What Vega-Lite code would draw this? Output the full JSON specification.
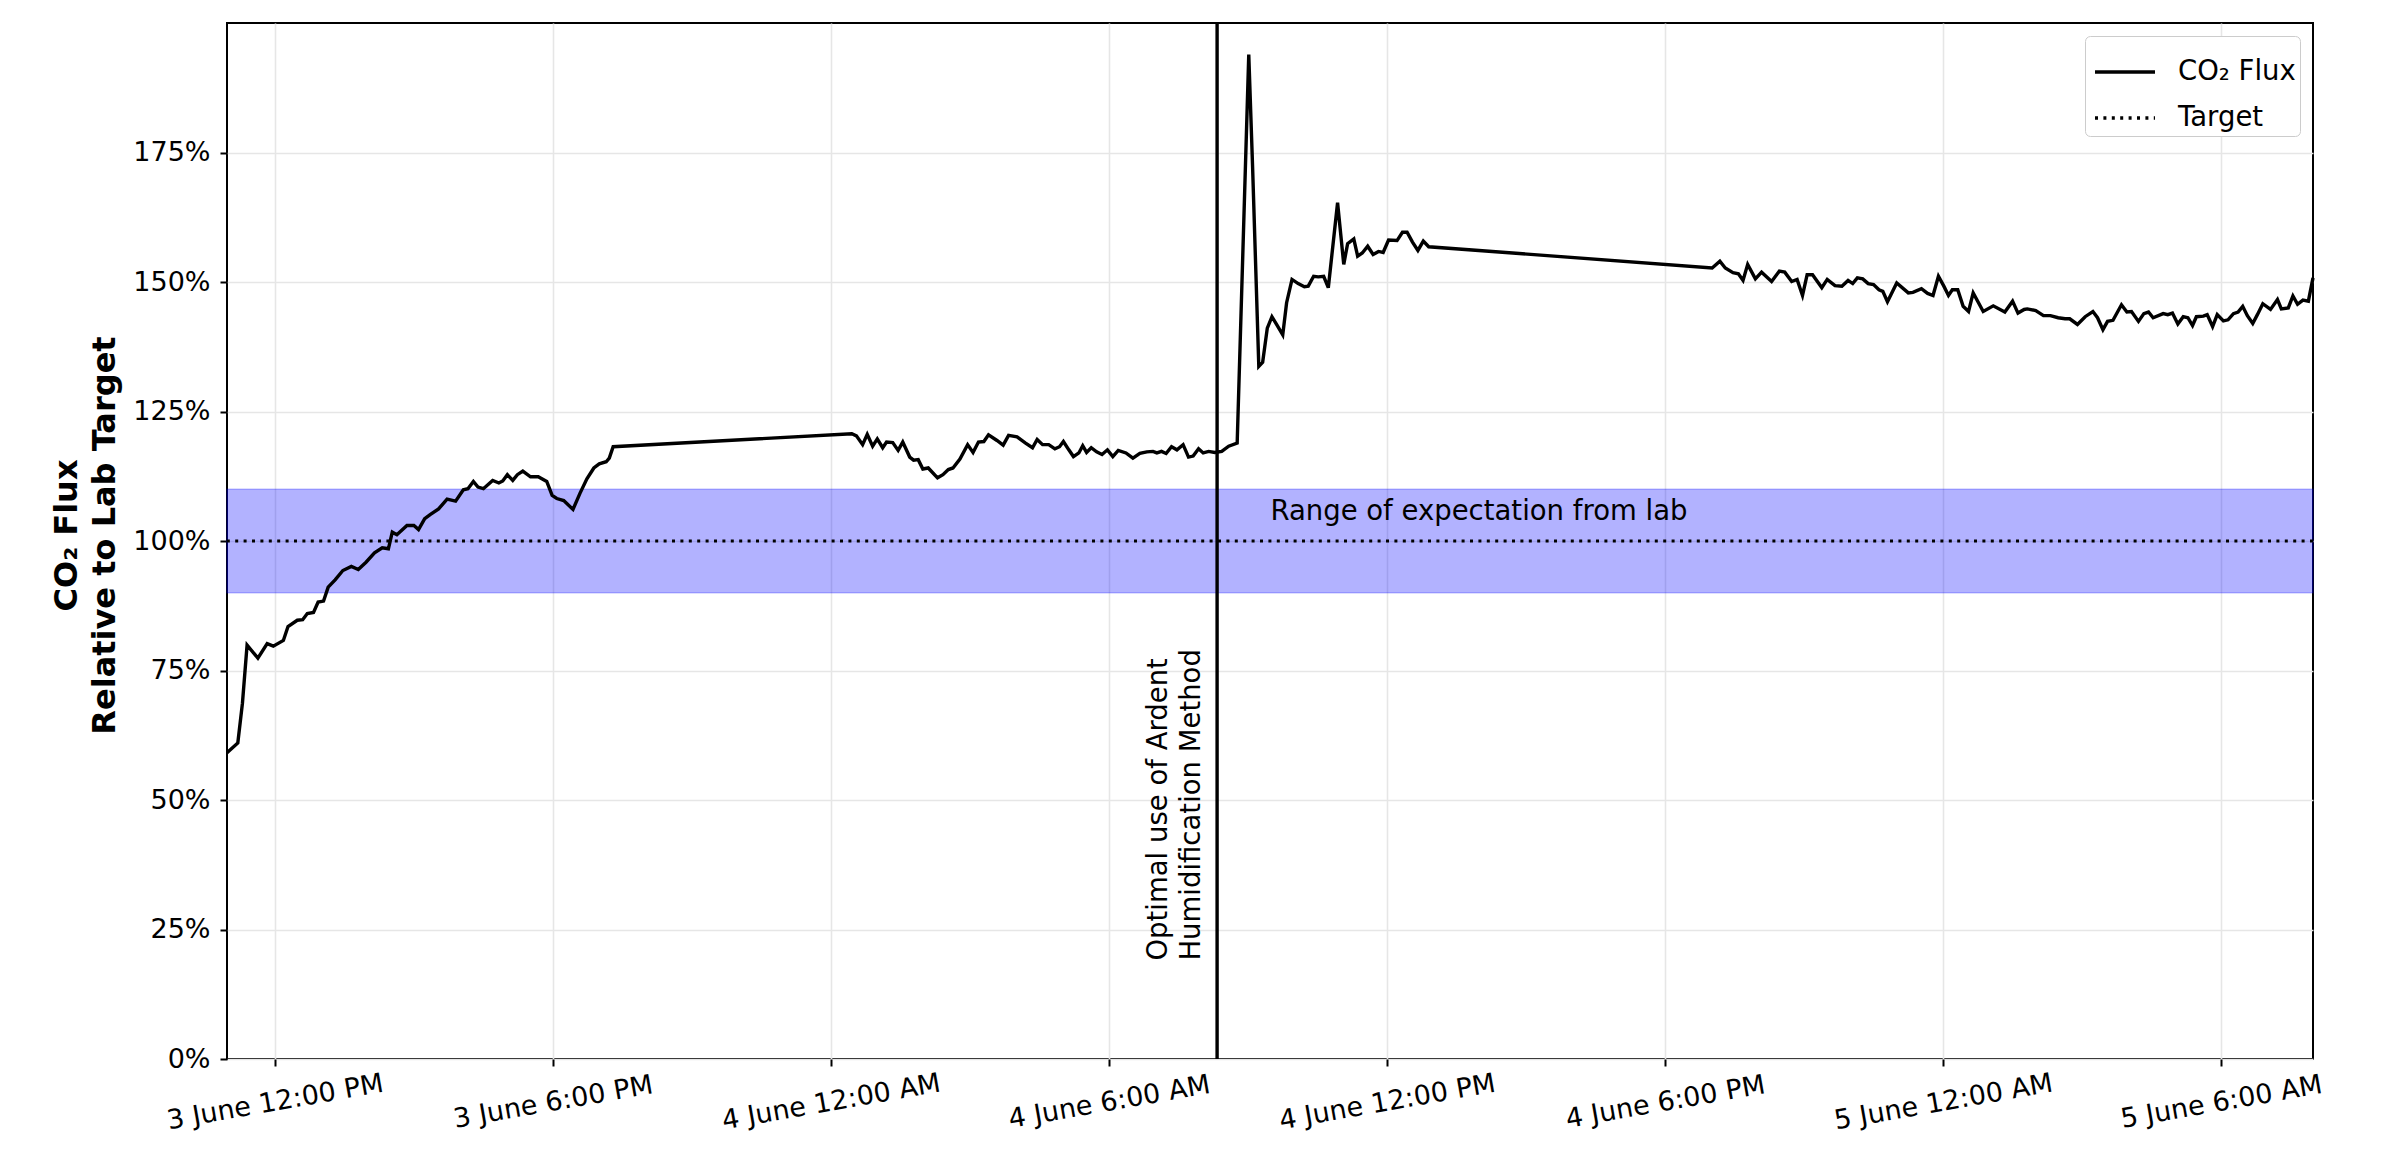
{
  "$schema": "https://vega.github.io/schema/vega-lite/v6.json",
  "width": 2086,
  "height": 1036,
  "autosize": {"type": "none"},
  "padding": {"left": 227, "top": 23, "right": 69, "bottom": 102},
  "background": "white",
  "config": {
    "font": "DejaVu Sans",
    "view": {"stroke": "black", "strokeWidth": 2},
    "axis": {
      "labelFont": "DejaVu Sans",
      "labelFontSize": 27,
      "labelColor": "black",
      "labelLimit": 600,
      "tickColor": "black",
      "tickWidth": 2,
      "tickSize": 7,
      "domain": false,
      "gridColor": "#e6e6e6",
      "gridWidth": 1.6,
      "titleFont": "DejaVu Sans",
      "titleColor": "black"
    },
    "legend": {
      "orient": "top-right",
      "offset": 13,
      "symbolType": "stroke",
      "symbolSize": 3600,
      "symbolStrokeWidth": 3.4,
      "symbolStrokeColor": "black",
      "symbolOffset": 4,
      "labelFont": "DejaVu Sans",
      "labelFontSize": 27.5,
      "labelColor": "black",
      "labelOffset": 21,
      "labelLimit": 400,
      "padding": 4,
      "rowPadding": -7,
      "strokeColor": "#cccccc",
      "fillColor": "white",
      "cornerRadius": 5
    }
  },
  "layer": [
    {
      "data": {"values": [{"v": 90, "v2": 110}]},
      "mark": {"type": "rect", "fill": "#0000ff", "fillOpacity": 0.3, "stroke": "#0000ff", "strokeOpacity": 0.25, "strokeWidth": 1.5},
      "encoding": {
        "y": {"field": "v", "type": "quantitative"},
        "y2": {"field": "v2"}
      }
    },
    {
      "data": {"values": [{"v": 100, "series": "Target"}]},
      "mark": {"type": "rule", "color": "black", "strokeWidth": 3.2},
      "encoding": {
        "y": {"field": "v", "type": "quantitative"},
        "strokeDash": {
          "field": "series",
          "type": "nominal",
          "scale": {"domain": ["CO₂ Flux", "Target"], "range": [[1, 0], [3, 5.4]]},
          "legend": {"title": null}
        }
      }
    },
    {
      "data": {"values": [
      {"t": "2024-06-03T10:58", "v": 59.1},
      {"t": "2024-06-03T11:12", "v": 61.0},
      {"t": "2024-06-03T11:18", "v": 68.7},
      {"t": "2024-06-03T11:24", "v": 79.9},
      {"t": "2024-06-03T11:38", "v": 77.4},
      {"t": "2024-06-03T11:50", "v": 80.2},
      {"t": "2024-06-03T11:58", "v": 79.7},
      {"t": "2024-06-03T12:11", "v": 80.8},
      {"t": "2024-06-03T12:17", "v": 83.5},
      {"t": "2024-06-03T12:29", "v": 84.7},
      {"t": "2024-06-03T12:36", "v": 84.8},
      {"t": "2024-06-03T12:42", "v": 86.0},
      {"t": "2024-06-03T12:50", "v": 86.2},
      {"t": "2024-06-03T12:56", "v": 88.2},
      {"t": "2024-06-03T13:03", "v": 88.4},
      {"t": "2024-06-03T13:09", "v": 91.1},
      {"t": "2024-06-03T13:18", "v": 92.5},
      {"t": "2024-06-03T13:28", "v": 94.3},
      {"t": "2024-06-03T13:39", "v": 95.1},
      {"t": "2024-06-03T13:48", "v": 94.5},
      {"t": "2024-06-03T13:58", "v": 95.9},
      {"t": "2024-06-03T14:09", "v": 97.7},
      {"t": "2024-06-03T14:19", "v": 98.7},
      {"t": "2024-06-03T14:27", "v": 98.5},
      {"t": "2024-06-03T14:32", "v": 101.7},
      {"t": "2024-06-03T14:38", "v": 101.2},
      {"t": "2024-06-03T14:51", "v": 103.0},
      {"t": "2024-06-03T15:00", "v": 103.0},
      {"t": "2024-06-03T15:06", "v": 102.2},
      {"t": "2024-06-03T15:14", "v": 104.3},
      {"t": "2024-06-03T15:21", "v": 105.1},
      {"t": "2024-06-03T15:32", "v": 106.2},
      {"t": "2024-06-03T15:43", "v": 108.1},
      {"t": "2024-06-03T15:54", "v": 107.7},
      {"t": "2024-06-03T16:04", "v": 109.9},
      {"t": "2024-06-03T16:10", "v": 110.1},
      {"t": "2024-06-03T16:17", "v": 111.5},
      {"t": "2024-06-03T16:23", "v": 110.4},
      {"t": "2024-06-03T16:30", "v": 110.1},
      {"t": "2024-06-03T16:42", "v": 111.7},
      {"t": "2024-06-03T16:50", "v": 111.2},
      {"t": "2024-06-03T16:55", "v": 111.6},
      {"t": "2024-06-03T17:01", "v": 112.8},
      {"t": "2024-06-03T17:08", "v": 111.7},
      {"t": "2024-06-03T17:14", "v": 112.8},
      {"t": "2024-06-03T17:21", "v": 113.5},
      {"t": "2024-06-03T17:31", "v": 112.4},
      {"t": "2024-06-03T17:41", "v": 112.4},
      {"t": "2024-06-03T17:52", "v": 111.5},
      {"t": "2024-06-03T17:59", "v": 108.8},
      {"t": "2024-06-03T18:05", "v": 108.2},
      {"t": "2024-06-03T18:14", "v": 107.8},
      {"t": "2024-06-03T18:26", "v": 106.1},
      {"t": "2024-06-03T18:35", "v": 109.2},
      {"t": "2024-06-03T18:44", "v": 112.0},
      {"t": "2024-06-03T18:53", "v": 114.1},
      {"t": "2024-06-03T19:00", "v": 114.9},
      {"t": "2024-06-03T19:09", "v": 115.3},
      {"t": "2024-06-03T19:13", "v": 116.0},
      {"t": "2024-06-03T19:18", "v": 118.2},
      {"t": "2024-06-04T00:27", "v": 120.7},
      {"t": "2024-06-04T00:33", "v": 120.3},
      {"t": "2024-06-04T00:41", "v": 118.6},
      {"t": "2024-06-04T00:47", "v": 120.6},
      {"t": "2024-06-04T00:54", "v": 118.3},
      {"t": "2024-06-04T01:00", "v": 119.7},
      {"t": "2024-06-04T01:07", "v": 118.0},
      {"t": "2024-06-04T01:12", "v": 119.1},
      {"t": "2024-06-04T01:20", "v": 119.0},
      {"t": "2024-06-04T01:27", "v": 117.5},
      {"t": "2024-06-04T01:33", "v": 119.1},
      {"t": "2024-06-04T01:42", "v": 116.2},
      {"t": "2024-06-04T01:47", "v": 115.6},
      {"t": "2024-06-04T01:53", "v": 115.7},
      {"t": "2024-06-04T01:59", "v": 113.9},
      {"t": "2024-06-04T02:06", "v": 114.1},
      {"t": "2024-06-04T02:18", "v": 112.2},
      {"t": "2024-06-04T02:25", "v": 112.8},
      {"t": "2024-06-04T02:32", "v": 113.8},
      {"t": "2024-06-04T02:38", "v": 114.1},
      {"t": "2024-06-04T02:47", "v": 115.8},
      {"t": "2024-06-04T02:57", "v": 118.6},
      {"t": "2024-06-04T03:04", "v": 117.1},
      {"t": "2024-06-04T03:11", "v": 119.1},
      {"t": "2024-06-04T03:18", "v": 119.2},
      {"t": "2024-06-04T03:24", "v": 120.5},
      {"t": "2024-06-04T03:35", "v": 119.4},
      {"t": "2024-06-04T03:43", "v": 118.5},
      {"t": "2024-06-04T03:50", "v": 120.4},
      {"t": "2024-06-04T04:01", "v": 120.1},
      {"t": "2024-06-04T04:12", "v": 118.9},
      {"t": "2024-06-04T04:21", "v": 118.0},
      {"t": "2024-06-04T04:27", "v": 119.6},
      {"t": "2024-06-04T04:34", "v": 118.6},
      {"t": "2024-06-04T04:42", "v": 118.6},
      {"t": "2024-06-04T04:50", "v": 117.8},
      {"t": "2024-06-04T04:56", "v": 118.2},
      {"t": "2024-06-04T05:01", "v": 119.2},
      {"t": "2024-06-04T05:08", "v": 117.6},
      {"t": "2024-06-04T05:14", "v": 116.3},
      {"t": "2024-06-04T05:21", "v": 117.0},
      {"t": "2024-06-04T05:26", "v": 118.4},
      {"t": "2024-06-04T05:31", "v": 117.1},
      {"t": "2024-06-04T05:37", "v": 118.0},
      {"t": "2024-06-04T05:44", "v": 117.2},
      {"t": "2024-06-04T05:51", "v": 116.7},
      {"t": "2024-06-04T05:58", "v": 117.6},
      {"t": "2024-06-04T06:05", "v": 116.3},
      {"t": "2024-06-04T06:12", "v": 117.5},
      {"t": "2024-06-04T06:22", "v": 117.0},
      {"t": "2024-06-04T06:31", "v": 116.0},
      {"t": "2024-06-04T06:40", "v": 116.9},
      {"t": "2024-06-04T06:49", "v": 117.2},
      {"t": "2024-06-04T06:57", "v": 117.3},
      {"t": "2024-06-04T07:02", "v": 117.0},
      {"t": "2024-06-04T07:08", "v": 117.3},
      {"t": "2024-06-04T07:14", "v": 116.9},
      {"t": "2024-06-04T07:21", "v": 118.2},
      {"t": "2024-06-04T07:28", "v": 117.6},
      {"t": "2024-06-04T07:36", "v": 118.6},
      {"t": "2024-06-04T07:43", "v": 116.2},
      {"t": "2024-06-04T07:49", "v": 116.4},
      {"t": "2024-06-04T07:56", "v": 117.8},
      {"t": "2024-06-04T08:02", "v": 117.0},
      {"t": "2024-06-04T08:09", "v": 117.3},
      {"t": "2024-06-04T08:17", "v": 117.1},
      {"t": "2024-06-04T08:26", "v": 117.3},
      {"t": "2024-06-04T08:35", "v": 118.3},
      {"t": "2024-06-04T08:46", "v": 118.9},
      {"t": "2024-06-04T09:01", "v": 193.9},
      {"t": "2024-06-04T09:06", "v": 172.0},
      {"t": "2024-06-04T09:14", "v": 133.7},
      {"t": "2024-06-04T09:19", "v": 134.5},
      {"t": "2024-06-04T09:25", "v": 141.1},
      {"t": "2024-06-04T09:31", "v": 143.3},
      {"t": "2024-06-04T09:37", "v": 141.8},
      {"t": "2024-06-04T09:45", "v": 139.8},
      {"t": "2024-06-04T09:50", "v": 146.0},
      {"t": "2024-06-04T09:57", "v": 150.5},
      {"t": "2024-06-04T10:05", "v": 149.7},
      {"t": "2024-06-04T10:13", "v": 149.1},
      {"t": "2024-06-04T10:18", "v": 149.2},
      {"t": "2024-06-04T10:25", "v": 151.1},
      {"t": "2024-06-04T10:31", "v": 151.0},
      {"t": "2024-06-04T10:38", "v": 151.1},
      {"t": "2024-06-04T10:44", "v": 148.9},
      {"t": "2024-06-04T10:56", "v": 165.3},
      {"t": "2024-06-04T11:04", "v": 153.4},
      {"t": "2024-06-04T11:09", "v": 157.4},
      {"t": "2024-06-04T11:17", "v": 158.3},
      {"t": "2024-06-04T11:22", "v": 155.0},
      {"t": "2024-06-04T11:28", "v": 155.6},
      {"t": "2024-06-04T11:35", "v": 156.9},
      {"t": "2024-06-04T11:42", "v": 155.3},
      {"t": "2024-06-04T11:49", "v": 155.9},
      {"t": "2024-06-04T11:55", "v": 155.7},
      {"t": "2024-06-04T12:02", "v": 158.1},
      {"t": "2024-06-04T12:13", "v": 158.0},
      {"t": "2024-06-04T12:20", "v": 159.6},
      {"t": "2024-06-04T12:26", "v": 159.6},
      {"t": "2024-06-04T12:33", "v": 157.7},
      {"t": "2024-06-04T12:40", "v": 156.1},
      {"t": "2024-06-04T12:47", "v": 157.9},
      {"t": "2024-06-04T12:54", "v": 156.8},
      {"t": "2024-06-04T19:01", "v": 152.7},
      {"t": "2024-06-04T19:11", "v": 154.0},
      {"t": "2024-06-04T19:18", "v": 152.7},
      {"t": "2024-06-04T19:28", "v": 151.8},
      {"t": "2024-06-04T19:35", "v": 151.6},
      {"t": "2024-06-04T19:41", "v": 150.3},
      {"t": "2024-06-04T19:47", "v": 153.4},
      {"t": "2024-06-04T19:57", "v": 150.6},
      {"t": "2024-06-04T20:05", "v": 151.9},
      {"t": "2024-06-04T20:18", "v": 150.1},
      {"t": "2024-06-04T20:28", "v": 152.1},
      {"t": "2024-06-04T20:35", "v": 151.9},
      {"t": "2024-06-04T20:44", "v": 150.1},
      {"t": "2024-06-04T20:51", "v": 150.5},
      {"t": "2024-06-04T20:58", "v": 147.4},
      {"t": "2024-06-04T21:04", "v": 151.4},
      {"t": "2024-06-04T21:11", "v": 151.4},
      {"t": "2024-06-04T21:23", "v": 148.9},
      {"t": "2024-06-04T21:30", "v": 150.5},
      {"t": "2024-06-04T21:40", "v": 149.3},
      {"t": "2024-06-04T21:49", "v": 149.2},
      {"t": "2024-06-04T21:57", "v": 150.3},
      {"t": "2024-06-04T22:03", "v": 149.7},
      {"t": "2024-06-04T22:09", "v": 150.8},
      {"t": "2024-06-04T22:16", "v": 150.6},
      {"t": "2024-06-04T22:23", "v": 149.7},
      {"t": "2024-06-04T22:30", "v": 149.5},
      {"t": "2024-06-04T22:37", "v": 148.5},
      {"t": "2024-06-04T22:42", "v": 148.2},
      {"t": "2024-06-04T22:48", "v": 146.2},
      {"t": "2024-06-04T23:00", "v": 149.8},
      {"t": "2024-06-04T23:15", "v": 147.9},
      {"t": "2024-06-04T23:21", "v": 148.0},
      {"t": "2024-06-04T23:32", "v": 148.7},
      {"t": "2024-06-04T23:40", "v": 147.8},
      {"t": "2024-06-04T23:47", "v": 147.4},
      {"t": "2024-06-04T23:54", "v": 151.1},
      {"t": "2024-06-05T00:01", "v": 149.2},
      {"t": "2024-06-05T00:07", "v": 147.4},
      {"t": "2024-06-05T00:12", "v": 148.5},
      {"t": "2024-06-05T00:19", "v": 148.5},
      {"t": "2024-06-05T00:26", "v": 145.3},
      {"t": "2024-06-05T00:33", "v": 144.3},
      {"t": "2024-06-05T00:39", "v": 147.9},
      {"t": "2024-06-05T00:52", "v": 144.3},
      {"t": "2024-06-05T01:05", "v": 145.4},
      {"t": "2024-06-05T01:20", "v": 144.2},
      {"t": "2024-06-05T01:30", "v": 146.3},
      {"t": "2024-06-05T01:37", "v": 144.0},
      {"t": "2024-06-05T01:45", "v": 144.7},
      {"t": "2024-06-05T01:49", "v": 144.8},
      {"t": "2024-06-05T02:00", "v": 144.5},
      {"t": "2024-06-05T02:10", "v": 143.5},
      {"t": "2024-06-05T02:19", "v": 143.5},
      {"t": "2024-06-05T02:29", "v": 143.1},
      {"t": "2024-06-05T02:38", "v": 142.9},
      {"t": "2024-06-05T02:44", "v": 142.9},
      {"t": "2024-06-05T02:54", "v": 141.8},
      {"t": "2024-06-05T03:04", "v": 143.3},
      {"t": "2024-06-05T03:14", "v": 144.3},
      {"t": "2024-06-05T03:20", "v": 143.1},
      {"t": "2024-06-05T03:27", "v": 140.8},
      {"t": "2024-06-05T03:33", "v": 142.4},
      {"t": "2024-06-05T03:40", "v": 142.6},
      {"t": "2024-06-05T03:51", "v": 145.6},
      {"t": "2024-06-05T03:58", "v": 144.2},
      {"t": "2024-06-05T04:04", "v": 144.3},
      {"t": "2024-06-05T04:13", "v": 142.4},
      {"t": "2024-06-05T04:20", "v": 143.9},
      {"t": "2024-06-05T04:26", "v": 144.2},
      {"t": "2024-06-05T04:32", "v": 143.1},
      {"t": "2024-06-05T04:45", "v": 143.9},
      {"t": "2024-06-05T04:51", "v": 143.7},
      {"t": "2024-06-05T04:57", "v": 144.0},
      {"t": "2024-06-05T05:04", "v": 141.9},
      {"t": "2024-06-05T05:11", "v": 143.3},
      {"t": "2024-06-05T05:17", "v": 143.1},
      {"t": "2024-06-05T05:23", "v": 141.6},
      {"t": "2024-06-05T05:28", "v": 143.3},
      {"t": "2024-06-05T05:37", "v": 143.4},
      {"t": "2024-06-05T05:42", "v": 143.7},
      {"t": "2024-06-05T05:49", "v": 141.4},
      {"t": "2024-06-05T05:55", "v": 143.7},
      {"t": "2024-06-05T06:03", "v": 142.5},
      {"t": "2024-06-05T06:09", "v": 142.7},
      {"t": "2024-06-05T06:16", "v": 143.9},
      {"t": "2024-06-05T06:22", "v": 144.2},
      {"t": "2024-06-05T06:28", "v": 145.3},
      {"t": "2024-06-05T06:34", "v": 143.5},
      {"t": "2024-06-05T06:41", "v": 142.0},
      {"t": "2024-06-05T06:47", "v": 143.7},
      {"t": "2024-06-05T06:54", "v": 145.8},
      {"t": "2024-06-05T07:04", "v": 144.7},
      {"t": "2024-06-05T07:13", "v": 146.6},
      {"t": "2024-06-05T07:18", "v": 144.8},
      {"t": "2024-06-05T07:27", "v": 145.0},
      {"t": "2024-06-05T07:33", "v": 147.3},
      {"t": "2024-06-05T07:39", "v": 145.7},
      {"t": "2024-06-05T07:46", "v": 146.5},
      {"t": "2024-06-05T07:53", "v": 146.3},
      {"t": "2024-06-05T07:59", "v": 150.8}
      ]},
      "mark": {"type": "line", "color": "black", "strokeWidth": 3.4},
      "encoding": {
        "x": {
          "field": "t",
          "type": "temporal",
          "axis": {
            "title": null,
            "format": "%-d June %-I:%M %p",
            "tickCount": 8,
            "labelAngle": -10,
            "labelAlign": "center",
            "labelBaseline": "middle",
            "labelPadding": 36,
            "labelOverlap": false,
            "labelLimit": 600,
            "grid": true
          }
        },
        "y": {
          "field": "v",
          "type": "quantitative",
          "scale": {"domain": [0, 200], "nice": false},
          "axis": {
            "title": ["CO₂ Flux", "Relative to Lab Target"],
            "titleFontSize": 32,
            "titleFontWeight": "bold",
            "titleLineHeight": 38,
            "titleAngle": 270,
            "titleAlign": "center",
            "titleBaseline": "bottom",
            "titleX": -144,
            "titleY": 512,
            "values": [0, 25, 50, 75, 100, 125, 150, 175],
            "labelExpr": "datum.value + '%'",
            "labelPadding": 10,
            "grid": true
          }
        }
      }
    },
    {
      "data": {"values": [{"t": "2024-06-04T08:20"}]},
      "mark": {"type": "rule", "color": "black", "strokeWidth": 3.4},
      "encoding": {
        "x": {"field": "t", "type": "temporal"}
      }
    },
    {
      "data": {"values": [{"t": "2024-06-04T09:29", "v": 104, "label": "Range of expectation from lab"}]},
      "mark": {"type": "text", "align": "left", "baseline": "alphabetic", "fontSize": 27.5, "color": "black", "font": "DejaVu Sans"},
      "encoding": {
        "x": {"field": "t", "type": "temporal"},
        "y": {"field": "v", "type": "quantitative"},
        "text": {"field": "label"}
      }
    },
    {
      "data": {"values": [{"t": "2024-06-04T08:20", "v": 19, "label": "Optimal use of Ardent\nHumidification Method"}]},
      "mark": {"type": "text", "angle": 270, "align": "left", "baseline": "bottom", "dy": -44, "fontSize": 27.5, "lineHeight": 33, "lineBreak": "\n", "color": "black", "font": "DejaVu Sans"},
      "encoding": {
        "x": {"field": "t", "type": "temporal"},
        "y": {"field": "v", "type": "quantitative"},
        "text": {"field": "label"}
      }
    }
  ]
}
